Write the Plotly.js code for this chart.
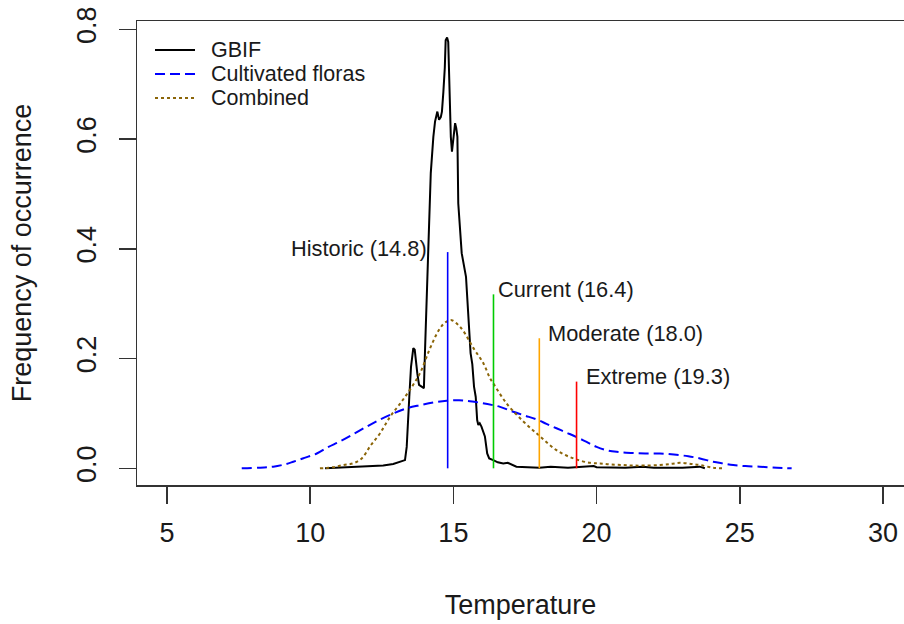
<!DOCTYPE html>
<html>
<head>
<meta charset="utf-8">
<script src="https://cdn.plot.ly/plotly-3.0.1.min.js"></script>
<style>html,body{margin:0;padding:0;background:#fff;}#chart{width:904px;height:624px;}</style>
</head>
<body>
<div id="chart"></div>
<script>
// GBIF density (jagged black line)
var gbifT = [10.52, 11.0, 11.62, 12.0, 12.55, 12.9, 13.02, 13.15, 13.31, 13.37, 13.40, 13.46, 13.52, 13.60, 13.65, 13.70, 13.74, 13.80, 13.97, 14.01, 14.07, 14.10, 14.16, 14.21, 14.30, 14.36, 14.44, 14.50, 14.56, 14.60, 14.65, 14.70, 14.73, 14.78, 14.82, 14.86, 14.91, 14.95, 14.99, 15.06, 15.10, 15.14, 15.17, 15.29, 15.44, 15.52, 15.60, 15.66, 15.72, 15.78, 15.83, 15.87, 15.92, 15.98, 16.10, 16.18, 16.25, 16.39, 16.55, 16.74, 16.90, 17.20, 17.50, 18.00, 18.40, 18.60, 19.00, 19.90, 20.00, 21.00, 21.60, 22.00, 23.00, 23.60, 23.78];
var gbifF = [0.000, 0.001, 0.003, 0.003, 0.005, 0.008, 0.010, 0.012, 0.015, 0.039, 0.076, 0.130, 0.185, 0.219, 0.216, 0.190, 0.173, 0.152, 0.146, 0.216, 0.310, 0.392, 0.468, 0.538, 0.604, 0.632, 0.650, 0.635, 0.640, 0.650, 0.686, 0.730, 0.780, 0.785, 0.777, 0.686, 0.604, 0.577, 0.600, 0.629, 0.620, 0.604, 0.483, 0.392, 0.349, 0.270, 0.210, 0.190, 0.149, 0.130, 0.088, 0.079, 0.082, 0.076, 0.058, 0.027, 0.018, 0.015, 0.011, 0.009, 0.010, 0.003, 0.002, 0.001, 0.003, 0.002, 0.001, 0.004, 0.002, 0.001, 0.003, 0.001, 0.001, 0.003, 0.000];

// Cultivated floras density (blue dashed)
var cultT = [7.61, 8.2, 8.71, 9.1, 9.41, 9.8, 10.23, 10.6, 11.04, 11.5, 11.97, 12.4, 12.9, 13.35, 13.83, 14.3, 14.77, 15.2, 15.58, 16.0, 16.39, 16.63, 17.09, 17.5, 17.91, 18.25, 18.6, 18.95, 19.3, 19.65, 20.0, 20.35, 20.7, 21.2, 21.7, 22.21, 22.7, 23.2, 23.61, 24.07, 24.4, 24.77, 25.2, 25.7, 26.3, 26.81];
var cultF = [0.000, 0.001, 0.003, 0.007, 0.012, 0.019, 0.027, 0.038, 0.049, 0.062, 0.076, 0.088, 0.100, 0.109, 0.115, 0.120, 0.123, 0.124, 0.122, 0.119, 0.115, 0.112, 0.103, 0.096, 0.089, 0.081, 0.073, 0.065, 0.057, 0.048, 0.039, 0.033, 0.030, 0.028, 0.027, 0.027, 0.025, 0.022, 0.018, 0.012, 0.009, 0.006, 0.004, 0.003, 0.001, 0.000];

// Combined density (brown dotted)
var combT = [10.34, 10.8, 11.16, 11.5, 11.8, 12.09, 12.44, 12.79, 13.14, 13.48, 13.83, 14.18, 14.53, 14.75, 14.94, 15.15, 15.35, 15.7, 16.05, 16.28, 16.39, 16.86, 17.45, 18.03, 18.6, 19.19, 19.77, 20.12, 20.5, 20.93, 21.28, 21.7, 22.21, 22.6, 22.91, 23.3, 23.61, 24.07, 24.42];
var combF = [0.000, 0.002, 0.006, 0.009, 0.018, 0.040, 0.064, 0.094, 0.118, 0.143, 0.173, 0.218, 0.255, 0.267, 0.270, 0.262, 0.250, 0.219, 0.191, 0.164, 0.155, 0.118, 0.085, 0.058, 0.033, 0.018, 0.010, 0.009, 0.007, 0.006, 0.005, 0.005, 0.006, 0.008, 0.010, 0.008, 0.006, 0.001, 0.000];

// Scenario markers
var scenNames = ["Historic", "Current", "Moderate", "Extreme"];
var scenTemps = [14.8, 16.4, 18.0, 19.3];
var scenTops = [0.394, 0.317, 0.237, 0.158];
var scenLabelY = [0.401, 0.325, 0.246, 0.167];
var scenColors = ["#0000FF", "#00CC00", "#FFA500", "#FF0000"];

var seriesNames = ["GBIF", "Cultivated floras", "Combined"];
var xTicks = [5, 10, 15, 20, 25, 30];
var yTicks = [0.0, 0.2, 0.4, 0.6, 0.8];

var FONT = "Liberation Sans, Arial, Helvetica, sans-serif";
var seriesStyles = [
  {color: "#000000", width: 2, dash: "solid"},
  {color: "#0000FF", width: 2, dash: "10px,5px"},
  {color: "#8B6508", width: 2, dash: "3px,3px"}
];

var traces = [
  {x: gbifT, y: gbifF, type: "scatter", mode: "lines", name: seriesNames[0], line: seriesStyles[0]},
  {x: cultT, y: cultF, type: "scatter", mode: "lines", name: seriesNames[1],
   line: Object.assign({shape: "spline"}, seriesStyles[1])},
  {x: combT, y: combF, type: "scatter", mode: "lines", name: seriesNames[2],
   line: Object.assign({shape: "spline"}, seriesStyles[2])}
];

var annotations = [];
var shapes = [];
for (var i = 0; i < scenNames.length; i++) {
  traces.push({x: [scenTemps[i], scenTemps[i]], y: [0, scenTops[i]], type: "scatter", mode: "lines",
    showlegend: false, hoverinfo: "skip", line: {color: scenColors[i], width: 1.6}});
  var left = (i === 0);
  annotations.push({
    x: scenTemps[i], y: scenLabelY[i], xref: "x", yref: "y",
    text: scenNames[i] + " (" + scenTemps[i].toFixed(1) + ")",
    showarrow: false, xanchor: left ? "right" : "left", yanchor: "middle",
    xshift: left ? -19 : (i === 1 ? 3 : 7),
    font: {family: FONT, size: 21.8, color: "#1a1a1a"}
  });
}

// Manual legend (R style, no box): positions in plot-area fractions
var plotL = 137, plotW = 767, plotB = 485, plotH = 464;
function px2fx(p) { return (p - plotL) / plotW; }
function py2fy(p) { return (plotB - p) / plotH; }
var legRowY = [50, 74, 98];
for (var k = 0; k < seriesNames.length; k++) {
  shapes.push({type: "line", xref: "paper", yref: "paper",
    x0: px2fx(155), x1: px2fx(195), y0: py2fy(legRowY[k]), y1: py2fy(legRowY[k]),
    line: {color: seriesStyles[k].color, width: seriesStyles[k].width, dash: seriesStyles[k].dash}});
  annotations.push({xref: "paper", yref: "paper", x: px2fx(209), y: py2fy(legRowY[k]),
    xanchor: "left", yanchor: "middle", showarrow: false, text: seriesNames[k],
    font: {family: FONT, size: 21.5, color: "#1a1a1a"}});
}

var layout = {
  width: 904, height: 624,
  margin: {l: 137, r: 0, t: 21, b: 139, pad: 0},
  paper_bgcolor: "#ffffff", plot_bgcolor: "#ffffff",
  font: {family: FONT, color: "#1a1a1a"},
  showlegend: false,
  xaxis: {
    range: [3.953, 30.733], tickmode: "array", tickvals: xTicks, ticktext: xTicks.map(String),
    showgrid: false, zeroline: false, showline: true, mirror: true, linecolor: "#333", linewidth: 1.5,
    ticks: "outside", ticklen: 17, tickwidth: 1.5, tickcolor: "#333",
    tickfont: {family: FONT, size: 27, color: "#1a1a1a"}, ticklabelstandoff: 6,
    title: {text: "Temperature", font: {family: FONT, size: 27, color: "#1a1a1a"}, standoff: 48}
  },
  yaxis: {
    range: [-0.0304, 0.8151], tickmode: "array", tickvals: yTicks, ticktext: yTicks.map(function(v){return v.toFixed(1);}),
    showgrid: false, zeroline: false, showline: true, mirror: false, linecolor: "#333", linewidth: 1.5,
    ticks: "outside", ticklen: 17, tickwidth: 1.5, tickcolor: "#333", tickangle: -90,
    tickfont: {family: FONT, size: 27, color: "#1a1a1a"}, ticklabelstandoff: 12,
    title: {text: "Frequency of occurrence", font: {family: FONT, size: 27, color: "#1a1a1a"}, standoff: 32}
  },
  annotations: annotations,
  shapes: shapes
};

Plotly.newPlot("chart", traces, layout, {staticPlot: true, displayModeBar: false});
</script>
</body>
</html>
